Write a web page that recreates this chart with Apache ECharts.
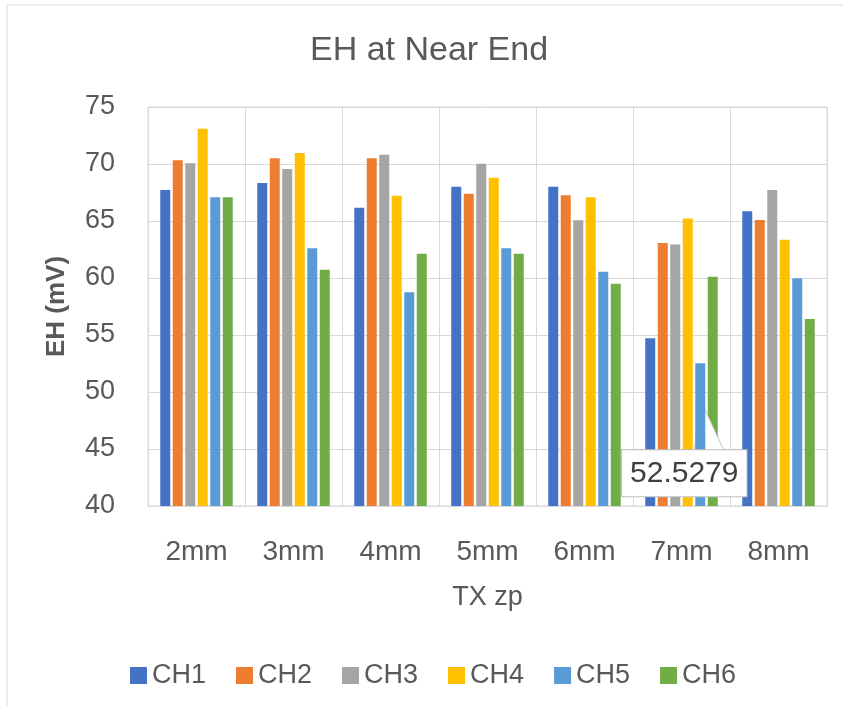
<!DOCTYPE html>
<html>
<head>
<meta charset="utf-8">
<script src="https://cdn.jsdelivr.net/npm/echarts@6/dist/echarts.min.js"></script>
<style>html,body{margin:0;padding:0;background:#fff}#c{width:843px;height:707px}</style>
</head>
<body>
<div id="c"></div>
<script>
const categories = ['2mm', '3mm', '4mm', '5mm', '6mm', '7mm', '8mm'];
const seriesNames = ['CH1', 'CH2', 'CH3', 'CH4', 'CH5', 'CH6'];
const ch1 = [67.72, 68.33, 66.17, 68.01, 68.01, 54.71, 65.85];
const ch2 = [70.32, 70.50, 70.50, 67.40, 67.25, 63.07, 65.09];
const ch3 = [70.06, 69.56, 70.82, 70.03, 65.06, 62.93, 67.72];
const ch4 = [73.10, 70.96, 67.22, 68.80, 67.08, 65.23, 63.36];
const ch5 = [67.08, 62.60, 58.74, 62.60, 60.55, 52.5279, 59.97];
const ch6 = [67.08, 60.73, 62.13, 62.13, 59.50, 60.12, 56.40];
const yTicks = [40, 45, 50, 55, 60, 65, 70, 75];
const calloutIndex = 5; // CH5 at 7mm

const colors = ['#4472C4', '#ED7D31', '#A5A5A5', '#FFC000', '#5B9BD5', '#70AD47'];
const font = '"Liberation Sans", Arial, sans-serif';
const txt = '#595959';

const allData = [ch1, ch2, ch3, ch4, ch5, ch6];
const series = allData.map((arr, si) => {
  const s = {
    name: seriesNames[si],
    type: 'bar',
    barWidth: 10,
    barGap: '25%',
    itemStyle: { color: colors[si] },
    data: arr.map((v, i) => {
      if (si === 4 && i === calloutIndex) {
        return {
          value: v,
          label: {
            show: true,
            position: 'top',
            distance: 0,
            formatter: '{c}',
            fontFamily: font,
            fontSize: 30,
            color: '#404040',
            backgroundColor: '#fff',
            borderColor: '#bfbfbf',
            borderWidth: 1,
            padding: [9, 8, 7, 8]
          }
        };
      }
      return v;
    }),
    z: si === 4 ? 5 : 2
  };
  if (si === 4) {
    s.labelLayout = function (p) {
      if (p.dataIndex === calloutIndex) return { dx: -16, dy: 133 };
      return {};
    };
    s.markPoint = {
      silent: true,
      symbol: 'path://M0,54L5,0L30,54',
      symbolSize: [30, 54],
      symbolKeepAspect: false,
      symbolOffset: [9, 61],
      itemStyle: { color: '#fff', borderColor: '#bfbfbf', borderWidth: 1 },
      label: { show: false },
      data: [{ coord: [categories[calloutIndex], ch5[calloutIndex]] }]
    };
  }
  return s;
});

const chart = echarts.init(document.getElementById('c'));
chart.setOption({
  animation: false,
  backgroundColor: '#fff',
  title: {
    text: 'EH at Near End',
    left: 305,
    top: 29,
    textStyle: { fontFamily: font, fontSize: 34, fontWeight: 'normal', color: txt }
  },
  graphic: [{
    type: 'rect',
    shape: { x: 7, y: 5, width: 900, height: 800 },
    style: { fill: 'none', stroke: '#d9d9d9', lineWidth: 1 },
    silent: true,
    z: -1
  }],
  legend: {
    top: 657,
    left: 125,
    itemWidth: 17,
    itemHeight: 17,
    itemGap: 30,
    icon: 'rect',
    textStyle: { fontFamily: font, fontSize: 27, color: txt },
    data: seriesNames
  },
  grid: {
    left: 148, right: 16, top: 107, bottom: 201,
    show: true, borderColor: '#d9d9d9', borderWidth: 1
  },
  xAxis: {
    type: 'category',
    data: categories,
    name: 'TX zp',
    nameLocation: 'middle',
    nameGap: 78,
    nameTextStyle: { fontFamily: font, fontSize: 27, color: txt },
    axisLine: { show: true, lineStyle: { color: '#d9d9d9' } },
    axisTick: { show: false },
    splitLine: { show: true, lineStyle: { color: '#d9d9d9' } },
    axisLabel: { fontFamily: font, fontSize: 28, color: txt, margin: 32 }
  },
  yAxis: {
    type: 'value',
    min: yTicks[0],
    max: yTicks[yTicks.length - 1],
    interval: 5,
    name: 'EH (mV)',
    nameLocation: 'middle',
    nameGap: 78,
    nameTextStyle: { fontFamily: font, fontSize: 26, color: txt, fontWeight: 'bold' },
    axisLine: { show: false },
    axisTick: { show: false },
    splitLine: { show: true, lineStyle: { color: '#d9d9d9' } },
    axisLabel: { fontFamily: font, fontSize: 27, color: txt, margin: 33 }
  },
  series: series
});
</script>
</body>
</html>
